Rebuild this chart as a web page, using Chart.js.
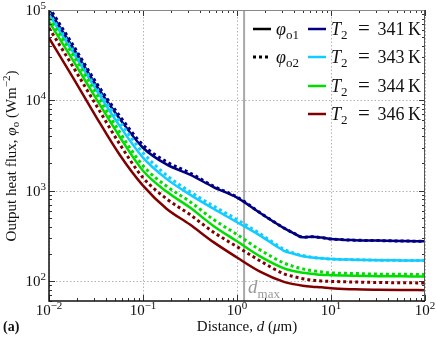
<!DOCTYPE html>
<html>
<head>
<meta charset="utf-8">
<script src="https://cdn.jsdelivr.net/npm/chart.js@4.4.0/dist/chart.umd.min.js"></script>
<style>
  html, body { margin: 0; padding: 0; background: #fff; }
</style>
</head>
<body>
<canvas id="chart" width="436" height="338"></canvas>
<script>
// distance d (um)
var distance = [0.01, 0.0178, 0.0316, 0.0562, 0.1, 0.178, 0.316, 0.562, 1, 1.78, 3.16, 3.98, 5.01, 6.31, 7.94, 10, 17.8, 31.6, 56.2, 100];

// output heat flux (W m^-2), phi_o1 = solid, phi_o2 = dotted
var phi1_341 = [100000, 38900, 14800, 6310, 2985, 1950, 1503, 1096, 837, 562, 385, 339, 305, 308, 302, 292, 283, 280, 277, 275];
var phi2_341 = [107000, 41700, 15800, 6760, 3200, 2090, 1570, 1120, 850, 565, 386, 340, 305, 308, 302, 292, 283, 280, 277, 275];
var phi1_343 = [89100, 34700, 13200, 5250, 2320, 1350, 904, 631, 447, 316, 216, 200, 188, 182, 178, 175, 172, 170, 169, 168];
var phi2_343 = [93300, 37200, 14100, 5890, 2630, 1480, 975, 676, 479, 331, 224, 204, 191, 183, 178, 175, 172, 170, 169, 168];
var phi1_344 = [74100, 28200, 10500, 3980, 1660, 977, 649, 407, 275, 186, 138, 129, 123, 120, 117, 116, 114, 113, 112.5, 112];
var phi2_344 = [81300, 32400, 12000, 4470, 1890, 1120, 755, 479, 327, 219, 158, 145, 136, 130, 126, 123, 121, 119, 118.5, 118];
var phi1_346 = [49000, 18200, 6610, 2510, 1135, 631, 421, 269, 182, 126, 97.7, 92.3, 88.7, 86.5, 85.1, 82.8, 80.9, 80.0, 79.4, 79.1];
var phi2_346 = [63100, 24000, 8910, 3310, 1390, 813, 543, 347, 240, 166, 120, 112, 106, 102, 100, 98.9, 97.3, 96.2, 95.5, 95.1];

var temps = ['341', '343', '344', '346'];
var colors = ['#000080', '#11ccff', '#00dd00', '#800000'];
var solidSeries = [phi1_341, phi1_343, phi1_344, phi1_346];
var dottedSeries = [phi2_341, phi2_343, phi2_344, phi2_346];
var dMax = 1.19;
var xDecades = [-2, -1, 0, 1, 2];
var yDecades = [2, 3, 4, 5];

var SERIF = '"Liberation Serif", "DejaVu Serif", serif';

function points(arr) {
    return distance.map(function (d, i) { return { x: d, y: arr[i] }; });
}

// draws a row of text pieces: {t, size, style, dy}
function rich(ctx, parts, x, y, align) {
    var w = 0;
    parts.forEach(function (p) {
        ctx.font = (p.style || '') + ' ' + p.size + 'px ' + SERIF;
        p.w = ctx.measureText(p.t).width;
        w += p.w;
    });
    var cx = align === 'center' ? x - w / 2 : (align === 'right' ? x - w : x);
    ctx.textAlign = 'left';
    ctx.textBaseline = 'alphabetic';
    parts.forEach(function (p) {
        ctx.font = (p.style || '') + ' ' + p.size + 'px ' + SERIF;
        ctx.fillText(p.t, cx, y + (p.dy || 0));
        cx += p.w;
    });
}

function expText(e) {
    return e < 0 ? '\u2212' + Math.abs(e) : String(e);
}

var decor = {
    id: 'decor',
    beforeDatasetsDraw: function (chart) {
        var ctx = chart.ctx, a = chart.chartArea;
        var xs = chart.scales.x, ys = chart.scales.y;
        ctx.save();
        ctx.strokeStyle = '#b4b4b4';
        ctx.lineWidth = 1;
        ctx.setLineDash([1.5, 2]);
        xDecades.forEach(function (e) {
            var px = Math.round(xs.getPixelForValue(Math.pow(10, e))) + 0.5;
            ctx.beginPath(); ctx.moveTo(px, a.top); ctx.lineTo(px, a.bottom); ctx.stroke();
        });
        yDecades.forEach(function (e) {
            var py = Math.round(ys.getPixelForValue(Math.pow(10, e))) + 0.5;
            ctx.beginPath(); ctx.moveTo(a.left, py); ctx.lineTo(a.right, py); ctx.stroke();
        });
        ctx.setLineDash([]);
        // d_max marker
        var xd = xs.getPixelForValue(dMax);
        ctx.strokeStyle = '#a8a8a8';
        ctx.lineWidth = 2;
        ctx.beginPath(); ctx.moveTo(xd, a.top); ctx.lineTo(xd, a.bottom); ctx.stroke();
        ctx.fillStyle = '#999';
        rich(ctx, [{ t: 'd', size: 19, style: 'italic' }, { t: 'max', size: 13, dy: 5 }], xd + 4, 293, 'left');
        ctx.restore();
    },
    afterDraw: function (chart) {
        var ctx = chart.ctx, a = chart.chartArea;
        var xs = chart.scales.x, ys = chart.scales.y;
        ctx.save();

        // inward tick marks on all four sides
        ctx.strokeStyle = '#333';
        ctx.lineWidth = 1;
        for (var e = -2; e <= 2; e++) {
            for (var m = 1; m <= 9; m++) {
                var v = m * Math.pow(10, e);
                if (v > 100.0001) continue;
                var px = Math.round(xs.getPixelForValue(v)) + 0.5;
                var len = m === 1 ? 6 : 3;
                ctx.beginPath();
                ctx.moveTo(px, a.bottom); ctx.lineTo(px, a.bottom - len);
                ctx.moveTo(px, a.top); ctx.lineTo(px, a.top + len);
                ctx.stroke();
            }
        }
        for (var e2 = 1; e2 <= 5; e2++) {
            for (var m2 = 1; m2 <= 9; m2++) {
                var v2 = m2 * Math.pow(10, e2);
                if (v2 < 60 || v2 > 100001) continue;
                var py = Math.round(ys.getPixelForValue(v2)) + 0.5;
                var len2 = m2 === 1 ? 6 : 3;
                ctx.beginPath();
                ctx.moveTo(a.left, py); ctx.lineTo(a.left + len2, py);
                ctx.moveTo(a.right, py); ctx.lineTo(a.right - len2, py);
                ctx.stroke();
            }
        }

        // frame
        ctx.lineWidth = 1;
        ctx.strokeStyle = '#888';
        ctx.beginPath(); ctx.moveTo(a.left, a.top + 0.5); ctx.lineTo(a.right, a.top + 0.5); ctx.stroke();
        ctx.strokeStyle = '#555';
        ctx.beginPath(); ctx.moveTo(a.right - 0.5, a.top); ctx.lineTo(a.right - 0.5, a.bottom); ctx.stroke();
        ctx.strokeStyle = '#111';
        ctx.lineWidth = 1.5;
        ctx.beginPath(); ctx.moveTo(a.left, a.top); ctx.lineTo(a.left, a.bottom); ctx.lineTo(a.right, a.bottom); ctx.stroke();

        // tick labels
        ctx.fillStyle = '#111';
        xDecades.forEach(function (e) {
            var px = xs.getPixelForValue(Math.pow(10, e));
            rich(ctx, [{ t: '10', size: 15 }, { t: expText(e), size: 11, dy: -6 }], px, 315, 'center');
        });
        yDecades.forEach(function (e) {
            var py = ys.getPixelForValue(Math.pow(10, e));
            rich(ctx, [{ t: '10', size: 15 }, { t: expText(e), size: 11, dy: -6 }], 46, py + 5, 'right');
        });

        // axis titles
        rich(ctx, [
            { t: 'Distance, ', size: 15 }, { t: 'd', size: 15, style: 'italic' },
            { t: ' (', size: 15 }, { t: '\u03bc', size: 15, style: 'italic' }, { t: 'm)', size: 15 }
        ], 247, 331, 'center');
        ctx.save();
        ctx.translate(16, 156);
        ctx.rotate(-Math.PI / 2);
        rich(ctx, [
            { t: 'Output heat flux, ', size: 15 }, { t: '\u03c6', size: 15, style: 'italic' },
            { t: 'o', size: 11, dy: 3 }, { t: ' (Wm', size: 15 }, { t: '\u22122', size: 11, dy: -6 },
            { t: ')', size: 15 }
        ], 0, 0, 'center');
        ctx.restore();
        rich(ctx, [{ t: '(a)', size: 14, style: 'bold' }], 3, 331, 'left');

        // legend
        var rowY = [29, 57, 86, 114];
        ctx.lineCap = 'butt';
        for (var i = 0; i < 4; i++) {
            var y = rowY[i];
            if (i < 2) {
                ctx.strokeStyle = '#000';
                ctx.lineWidth = i === 0 ? 2.5 : 3;
                ctx.setLineDash(i === 0 ? [] : [3, 3]);
                ctx.beginPath(); ctx.moveTo(253, y); ctx.lineTo(271, y); ctx.stroke();
                ctx.setLineDash([]);
                ctx.fillStyle = '#111';
                rich(ctx, [{ t: '\u03c6', size: 18, style: 'italic' }, { t: 'o' + (i + 1), size: 13, dy: 4 }], 276, y + 6, 'left');
            }
            ctx.strokeStyle = colors[i];
            ctx.lineWidth = 2.5;
            ctx.beginPath(); ctx.moveTo(308, y); ctx.lineTo(326, y); ctx.stroke();
            ctx.fillStyle = '#111';
            rich(ctx, [{ t: 'T', size: 18, style: 'italic' }, { t: '2', size: 13, dy: 4 }], 331, y + 6, 'left');
            rich(ctx, [{ t: '=', size: 21 }], 364, y + 6, 'center');
            rich(ctx, [{ t: temps[i] + '\u2009K', size: 18 }], 421, y + 6, 'right');
        }
        ctx.restore();
    }
};

var datasets = [];
for (var k = 0; k < 4; k++) {
    datasets.push({
        label: 'phi_o2, T2 = ' + temps[k] + ' K',
        data: points(dottedSeries[k]),
        borderColor: colors[k],
        borderWidth: 3,
        borderDash: [3, 3],
        order: 0
    });
    datasets.push({
        label: 'phi_o1, T2 = ' + temps[k] + ' K',
        data: points(solidSeries[k]),
        borderColor: colors[k],
        borderWidth: 2.5,
        order: 1
    });
}

new Chart(document.getElementById('chart'), {
    type: 'line',
    data: { datasets: datasets },
    options: {
        responsive: false,
        animation: false,
        devicePixelRatio: 1,
        layout: { padding: { top: 10, right: 11, left: 0, bottom: 0 } },
        plugins: { legend: { display: false }, tooltip: { enabled: false } },
        elements: {
            point: { radius: 0 },
            line: { cubicInterpolationMode: 'monotone', fill: false }
        },
        datasets: { line: { clip: 0 } },
        scales: {
            x: {
                type: 'logarithmic', min: 0.01, max: 100,
                grid: { display: false }, border: { display: false },
                ticks: { display: false },
                afterFit: function (s) { s.height = 37; }
            },
            y: {
                type: 'logarithmic', min: 60, max: 100000,
                grid: { display: false }, border: { display: false },
                ticks: { display: false },
                afterFit: function (s) { s.width = 49; }
            }
        }
    },
    plugins: [decor]
});
</script>
</body>
</html>
